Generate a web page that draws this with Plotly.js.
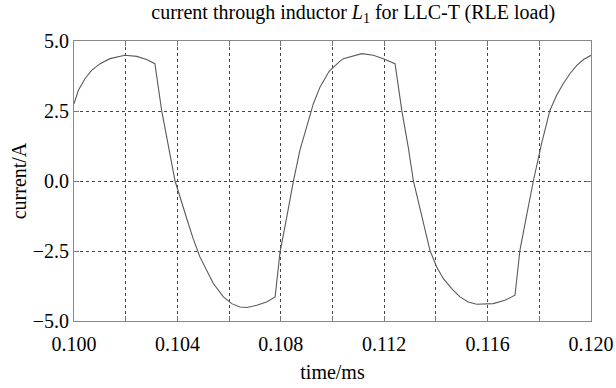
<!DOCTYPE html>
<html>
<head>
<meta charset="utf-8">
<script src="https://cdn.plot.ly/plotly-3.0.1.min.js"></script>
<style>
html,body{margin:0;padding:0;background:#fff;}
#chart{width:616px;height:388px;}
#chart text{font-family:"Liberation Serif","Times New Roman",serif !important;}
</style>
</head>
<body>
<div id="chart"></div>
<script>
const timeMs = [0.10000,0.10017,0.10043,0.10068,0.10101,0.10139,0.10197,0.10243,0.10281,0.10313,0.10339,0.10365,0.10391,0.10436,0.10461,0.10487,0.10513,0.10539,0.10578,0.10610,0.10642,0.10668,0.10707,0.10745,0.10778,0.10797,0.10823,0.10848,0.10874,0.10906,0.10926,0.10952,0.10987,0.11029,0.11042,0.11113,0.11158,0.11197,0.11242,0.11268,0.11293,0.11313,0.11345,0.11377,0.11403,0.11429,0.11461,0.11493,0.11525,0.11558,0.11622,0.11667,0.11706,0.11725,0.11751,0.11777,0.11809,0.11841,0.11867,0.11893,0.11919,0.11945,0.11971,0.12000];
const currentA = [2.76,3.24,3.66,3.95,4.19,4.37,4.49,4.45,4.34,4.19,2.52,1.21,0.00,-1.34,-2.06,-2.71,-3.19,-3.66,-4.14,-4.38,-4.50,-4.52,-4.44,-4.32,-4.14,-2.54,-1.29,-0.04,1.10,2.17,2.76,3.36,3.92,4.28,4.37,4.55,4.49,4.37,4.19,2.52,1.21,0.00,-1.29,-2.48,-3.07,-3.49,-3.84,-4.14,-4.32,-4.40,-4.38,-4.26,-4.08,-2.48,-1.23,0.00,1.34,2.52,3.06,3.48,3.84,4.13,4.34,4.49];
const xTicks = [0.100,0.104,0.108,0.112,0.116,0.120];
const yTicks = [-5.0,-2.5,0.0,2.5,5.0];

const fam = 'Liberation Serif';
const f = (s) => ({family: fam, size: s, color: '#000'});

Plotly.newPlot('chart', [{
  x: timeMs, y: currentA, type: 'scatter', mode: 'lines',
  line: {color: '#5a5a5a', width: 1.1}
}], {
  width: 616, height: 388,
  margin: {l: 74, r: 25, t: 41, b: 67},
  paper_bgcolor: '#fff', plot_bgcolor: '#fff',
  showlegend: false,
  font: f(20),
  title: {text: 'current through inductor <i>L</i><sub>1</sub> for LLC-T (RLE load)', font: f(20),
          x: 0.54, xanchor: 'center', xref: 'paper', y: 0.97, yanchor: 'middle', yref: 'container'},
  xaxis: {
    range: [0.100, 0.120], tickvals: xTicks, tickformat: '.3f',
    showgrid: true, gridcolor: '#444', griddash: 'dot', gridwidth: 1,
    minor: {dtick: 0.002, tick0: 0.100, showgrid: true, gridcolor: '#444', griddash: 'dot', gridwidth: 1, ticks: 'inside', ticklen: 5, tickcolor: '#777'},
    showline: true, linecolor: '#888', linewidth: 1, mirror: 'ticks',
    ticks: 'inside', ticklen: 5, tickcolor: '#777', zeroline: false,
    ticklabelstandoff: 5,
    tickfont: f(20),
    title: {text: 'time/ms', font: f(20), standoff: 10}
  },
  yaxis: {
    range: [-5, 5], tickvals: yTicks, tickformat: '.1f',
    showgrid: true, gridcolor: '#444', griddash: 'dot', gridwidth: 1,
    showline: true, linecolor: '#888', linewidth: 1, mirror: 'ticks',
    ticks: 'inside', ticklen: 5, tickcolor: '#777', zeroline: false,
    tickfont: f(20),
    title: {text: 'current/A', font: f(20), standoff: 0}
  }
}, {staticPlot: true});
</script>
</body>
</html>
